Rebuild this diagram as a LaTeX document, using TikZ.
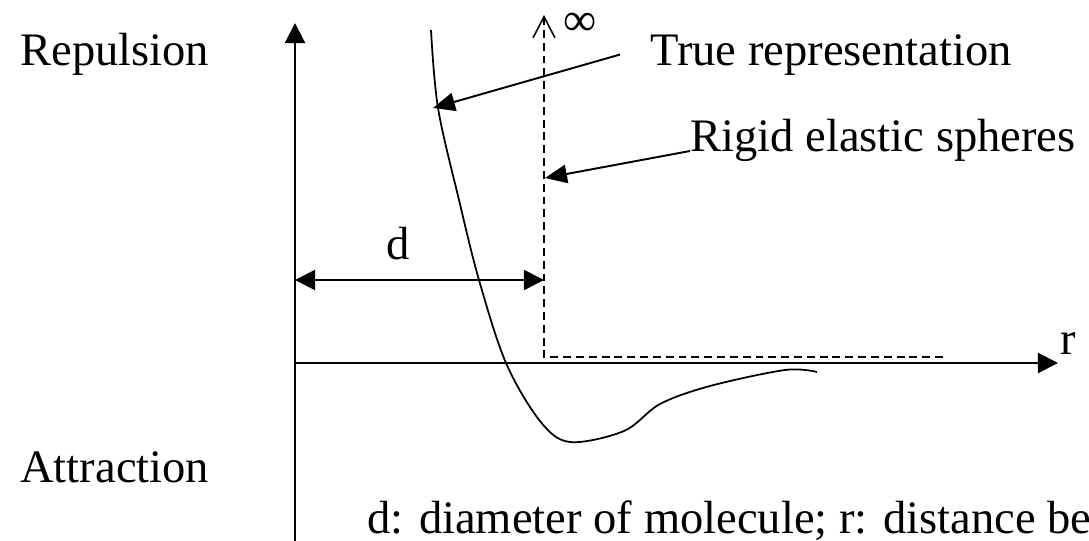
\documentclass[tikz,border=0pt]{standalone}
\usepackage{fontspec}
\setmainfont{Liberation Serif}
\usetikzlibrary{arrows.meta}

\begin{document}
\begin{tikzpicture}[
  x=0.02cm, y=-0.02cm,
  font=\fontsize{26.5}{30}\selectfont,
  lbl/.style={inner sep=0pt, anchor=base west},
  axis/.style={line width=1.2pt, -{Triangle[length=11.5pt, width=11.5pt]}},
  dim/.style={line width=1.1pt, {Triangle[length=11.5pt, width=11.5pt]}-{Triangle[length=11.5pt, width=11.5pt]}},
  pointer/.style={line width=1.1pt, -{Triangle[length=12.5pt, width=10.5pt]}},
  rigid/.style={line width=0.9pt, dash pattern=on 4.5pt off 2.8pt,
    -{Straight Barb[length=12pt, width=12.5pt]}},
  pot/.style={line width=1pt}
]
  \useasboundingbox (0,0) rectangle (1089,541);

  \coordinate (o) at (295,363);
  \coordinate (ytop) at (295,23);
  \coordinate (ybot) at (295,541);
  \coordinate (xend) at (1058,363);
  \coordinate (wall) at (544,357);
  \coordinate (walltop) at (544,15);
  \coordinate (wallend) at (943,357);
  \coordinate (dleft) at (295,280);
  \coordinate (dright) at (544,280);
  \coordinate (curvehit) at (433,108);
  \coordinate (wallhit) at (545,178);

  \node[lbl] (rep) at (20,65) {Repulsion};
  \node[lbl] (att) at (20,482) {Attraction};
  \node[lbl] (rlbl) at (1060,354) {r};
  \node[lbl] (dlbl) at (386,259) {d};
  \node[lbl] (inf) at (563,35) {∞};
  \node[lbl] (truelbl) at (650,65) {True representation};
  \node[lbl] (rigidlbl) at (690,151) {Rigid elastic spheres};
  \node[lbl] (note) at (367,533) {d: diameter of molecule; r: distance be};

  \draw[axis] (ybot) -- (ytop);
  \draw[axis] (o) -- (xend);
  \draw[dim] (dleft) -- (dright);
  \draw[rigid] (wallend) -- (wall) -- (walltop);

  \draw[pot] plot[smooth, tension=0.55] coordinates {(431,30) (438,108) (459,200)
    (479,280) (506,363) (540,421) (570,442) (624,431) (660,404) (710,386)
    (785,370) (817,372)};

  \draw[pointer] ([xshift=-0.6cm]truelbl.west) -- (curvehit);
  \draw[pointer] (rigidlbl.base west) -- (wallhit);
\end{tikzpicture}
\end{document}
